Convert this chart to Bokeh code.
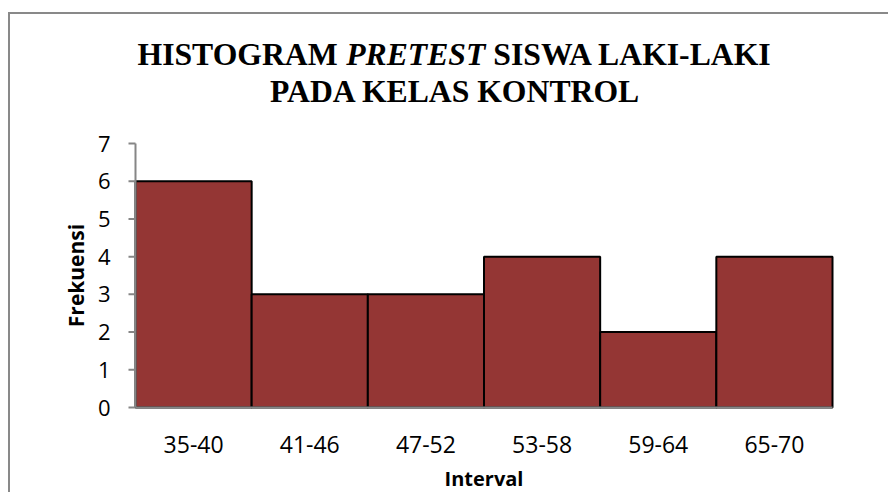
import math
from bokeh.plotting import figure
from bokeh.core.properties import value
from bokeh.embed import file_html
from bokeh.resources import INLINE

categories = ["35-40", "41-46", "47-52", "53-58", "59-64", "65-70"]
frequencies = [6, 3, 3, 4, 2, 4]
y_ticks = [0, 1, 2, 3, 4, 5, 6, 7]
x_label = "Interval"
y_label = "Frekuensi"

# page geometry: canvas starts at page (OX, OY) after margin + border
OX, OY = 10, 14
W, H = 880, 480
# plot area on the page: x 0 -> 135, x 6 -> 832 ; y 0 -> 407, y 7 -> 143
ppx = (832 - 135) / len(categories)
ppy = (407 - 143) / max(y_ticks)
x_start = (OX - 135) / ppx
x_end = (OX + W - 135) / ppx
y_start = (407 - (OY + H)) / ppy
y_end = (407 - OY) / ppy

p = figure(width=W, height=H, output_backend="svg", toolbar_location=None,
           x_range=(x_start, x_end), y_range=(y_start, y_end),
           min_border=0, x_axis_type=None, y_axis_type=None)
p.styles = {"border-top": "2px solid #898989", "border-left": "2px solid #898989",
            "margin-top": "12px", "margin-left": "8px"}
p.outline_line_color = None
p.grid.visible = False
p.background_fill_color = "white"
p.border_fill_color = "white"

lefts = list(range(len(categories)))
rights = [i + 1 for i in lefts]
p.quad(left=lefts, right=rights, bottom=0, top=frequencies,
       fill_color="#943634", line_color="black", line_width=2)

AX = "#868686"
# x axis line
p.segment(x0=[0], y0=[0], x1=[len(categories)], y1=[0], line_color=AX, line_width=2)
# y axis line + ticks
p.segment(x0=[0], y0=[0], x1=[0], y1=[max(y_ticks)], line_color=AX, line_width=2)
p.segment(x0=[0] * len(y_ticks), y0=y_ticks, x1=[-7 / ppx] * len(y_ticks), y1=y_ticks,
          line_color=AX, line_width=2)

lab_font = value("Open Sans")
# y tick labels
p.text(x=[0] * len(y_ticks), y=y_ticks, text=[str(t) for t in y_ticks],
       x_offset=-25, text_align="right", text_baseline="middle",
       text_font=lab_font, text_font_size="22px", text_color="black")
# x tick labels
p.text(x=[i + 0.5 for i in lefts], y=[0] * len(categories), text=categories,
       y_offset=37, text_align="center", text_baseline="middle",
       text_font=lab_font, text_font_size="23px", text_color="black")
# axis titles
p.text(x=[len(categories) / 2], y=[0], text=[x_label], y_offset=71,
       text_align="center", text_baseline="middle", text_font=lab_font,
       text_font_style="bold", text_font_size="20px", text_color="black")
p.text(x=[0], y=[max(y_ticks) / 2], text=[y_label], x_offset=-60, angle=math.pi / 2,
       text_align="center", text_baseline="middle", text_font=lab_font,
       text_font_style="bold", text_font_size="21px", text_color="black")

# chart title (mixed bold / bold italic)
def dx(page_x):
    return (page_x - 135) / ppx
def dy(page_y):
    return (407 - page_y) / ppy

fs = 31.7
tfont = value("Liberation Serif")
start = 137
w1 = 6.584 * fs
w2 = 4.390 * fs
pieces = [("HISTOGRAM", start, "bold"),
          ("PRETEST", start + w1, "bold italic"),
          ("SISWA LAKI-LAKI", start + w1 + w2 + 0.25 * fs, "bold")]
for txt, x0, style in pieces:
    p.text(x=[dx(x0)], y=[dy(54)], text=[txt], text_font=tfont,
           text_font_style=style, text_font_size=f"{fs}px",
           text_align="left", text_baseline="middle", text_color="black")
p.text(x=[dx(455)], y=[dy(91)], text=["PADA KELAS KONTROL"], text_font=tfont,
       text_font_style="bold", text_font_size=f"{fs}px",
       text_align="center", text_baseline="middle", text_color="black")

open("out.html", "w").write(file_html(p, INLINE))
